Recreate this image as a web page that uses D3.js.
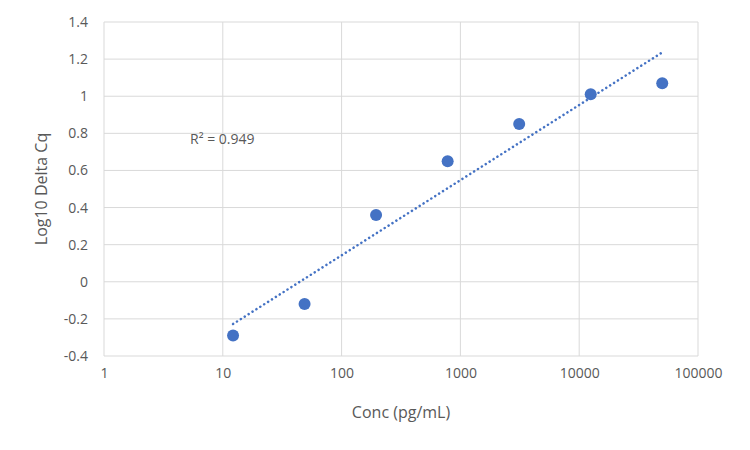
<!DOCTYPE html>
<html><head><meta charset="utf-8">
<script src="https://cdn.jsdelivr.net/npm/d3@7"></script>
<style>body{margin:0;background:#fff}text{font-family:"Open Sans",Arial,sans-serif}</style>
</head><body><svg id="c" width="750" height="450"></svg>
<script>
const conc = [12.2, 48.8, 195, 781, 3125, 12500, 50000];
const logDeltaCq = [-0.29, -0.12, 0.36, 0.65, 0.85, 1.01, 1.07];
const xTicks = [1, 10, 100, 1000, 10000, 100000];
const yTicks = [-0.4, -0.2, 0, 0.2, 0.4, 0.6, 0.8, 1, 1.2, 1.4];
const r2Label = "R² = 0.949";

const svg = d3.select("#c");
const x = d3.scaleLog().domain([1, 100000]).range([104, 698]);
const y = d3.scaleLinear().domain([-0.4, 1.4]).range([356, 22]);
const gray = "#595959";

svg.append("g").selectAll("line").data(xTicks).join("line")
  .attr("x1", d => x(d)).attr("x2", d => x(d)).attr("y1", 22).attr("y2", 356)
  .attr("stroke", "#d9d9d9");
svg.append("g").selectAll("line").data(yTicks).join("line")
  .attr("x1", 104).attr("x2", 698).attr("y1", d => y(d)).attr("y2", d => y(d))
  .attr("stroke", "#d9d9d9");

const xa = svg.append("g").attr("transform", "translate(0,356)")
  .call(d3.axisBottom(x).tickValues(xTicks).tickFormat(d3.format("d")).tickSize(0).tickPadding(12));
const ya = svg.append("g").attr("transform", "translate(104,0)")
  .call(d3.axisLeft(y).tickValues(yTicks).tickFormat(d => String(Math.round(d*10)/10)).tickSize(0).tickPadding(16));
[xa, ya].forEach(a => { a.select(".domain").remove();
  a.selectAll("text").attr("fill", gray).attr("font-size", 14).attr("font-family", '"Open Sans",Arial,sans-serif'); });

// linear regression on log10(x)
const lx = conc.map(Math.log10);
const mx = d3.mean(lx), my = d3.mean(logDeltaCq);
const slope = d3.sum(lx, (v, i) => (v - mx) * (logDeltaCq[i] - my)) / d3.sum(lx, v => (v - mx) ** 2);
const icpt = my - slope * mx;
const ends = [conc[0], conc[conc.length - 1]];
svg.append("line")
  .attr("x1", x(ends[0])).attr("y1", y(icpt + slope * Math.log10(ends[0])))
  .attr("x2", x(ends[1])).attr("y2", y(icpt + slope * Math.log10(ends[1])))
  .attr("stroke", "#4472C4").attr("stroke-width", 2.5).attr("stroke-dasharray", "0.1,4.5")
  .attr("stroke-linecap", "round");

svg.append("g").selectAll("circle").data(conc).join("circle")
  .attr("cx", d => x(d)).attr("cy", (d, i) => y(logDeltaCq[i])).attr("r", 6)
  .attr("fill", "#4472C4");

svg.append("text").attr("x", 190).attr("y", 144).attr("fill", gray).attr("font-size", 14).text(r2Label);
svg.append("text").attr("x", 401).attr("y", 418).attr("text-anchor", "middle")
  .attr("fill", gray).attr("font-size", 16).text("Conc (pg/mL)");
svg.append("text").attr("transform", "translate(47,189) rotate(-90)").attr("text-anchor", "middle")
  .attr("fill", gray).attr("font-size", 16).text("Log10 Delta Cq");
</script></body></html>
